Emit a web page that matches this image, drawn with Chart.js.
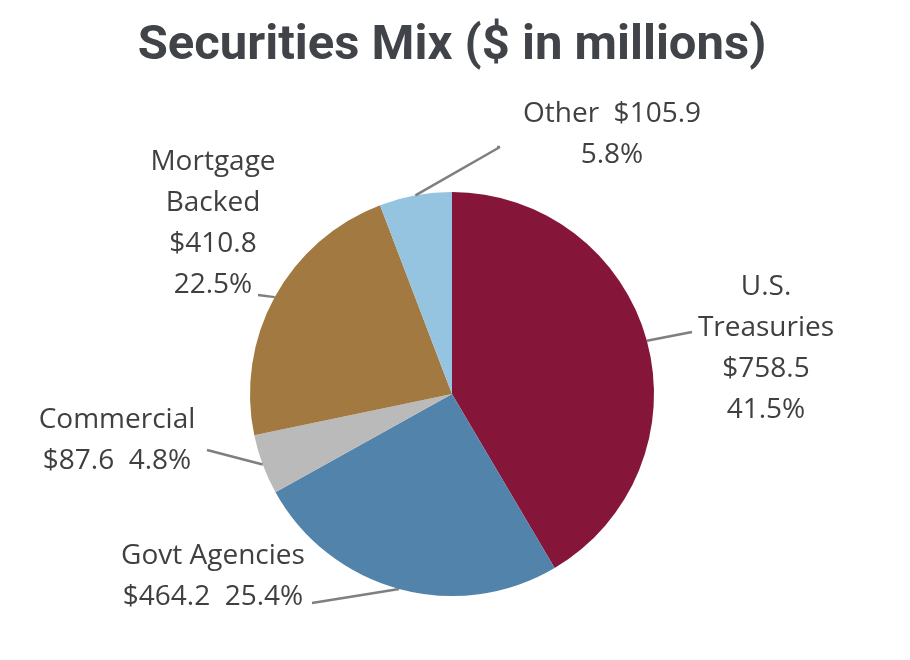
<!DOCTYPE html>
<html>
<head>
<meta charset="utf-8">
<script src="https://cdn.jsdelivr.net/npm/chart.js@4.4.1/dist/chart.umd.min.js"></script>
<style>
  html, body { margin: 0; padding: 0; background: #fff; }
  #wrap { width: 910px; height: 660px; }
</style>
</head>
<body>
<div id="wrap"><canvas id="show_chart" width="910" height="660"></canvas></div>
<script>
// ===== DATA =====
const categories = ['U.S. Treasuries', 'Govt Agencies', 'Commercial', 'Mortgage Backed', 'Other']
const amounts = [758.5, 464.2, 87.6, 410.8, 105.9]
const percents = ['41.5%', '25.4%', '4.8%', '22.5%', '5.8%']
const sliceColors = ['#86153A', '#5283AA', '#BABABB', '#A27A41', '#95C4E1']

// label text lines per slice
const labelLines = [
    ['U.S.', 'Treasuries', '$' + amounts[0].toFixed(1), percents[0]],
    ['Govt Agencies', '$' + amounts[1].toFixed(1) + '  ' + percents[1]],
    ['Commercial', '$' + amounts[2].toFixed(1) + '  ' + percents[2]],
    ['Mortgage', 'Backed', '$' + amounts[3].toFixed(1), percents[3]],
    ['Other  $' + amounts[4].toFixed(1), percents[4]]
]

// ===== LABEL LAYOUT (offsets from pie centre to the text block centre) =====
const labelPos = [
    { dx: 314, dy: -45 },
    { dx: -239, dy: 183 },
    { dx: -335, dy: 47 },
    { dx: -239, dy: -170 },
    { dx: 160, dy: -259 }
]
// where the leader line leaves the label (offset from pie centre)
const leaderStart = [
    [{ dx: 240, dy: -62 }],
    [{ dx: -140, dy: 209 }],
    [{ dx: -245, dy: 56 }],
    [{ dx: -194, dy: -99 }],
    [{ dx: 48, dy: -247 }, { dx: 45, dy: -247 }]
]

const LINE_H = 41

const labelPlugin = {
    id: 'sliceLabels',
    afterDatasetsDraw(chart) {
        const c = chart.ctx
        const arcs = chart.getDatasetMeta(0).data
        const cx = arcs[0].x
        const cy = arcs[0].y
        arcs.forEach((arc, i) => {
            const mid = (arc.startAngle + arc.endAngle) / 2
            const ex = cx + Math.cos(mid) * arc.outerRadius
            const ey = cy + Math.sin(mid) * arc.outerRadius

            // leader line
            c.save()
            c.strokeStyle = '#7F7F7F'
            c.lineWidth = 2.5
            c.beginPath()
            const pts = leaderStart[i]
            c.moveTo(cx + pts[0].dx, cy + pts[0].dy)
            for (let k = 1; k < pts.length; k++) c.lineTo(cx + pts[k].dx, cy + pts[k].dy)
            c.moveTo(cx + pts[0].dx, cy + pts[0].dy)
            c.lineTo(ex, ey)
            c.stroke()
            c.restore()

            // text
            c.save()
            c.fillStyle = '#404040'
            c.font = '28px "Open Sans"'
            c.textAlign = 'center'
            c.textBaseline = 'middle'
            const lines = labelLines[i]
            const lx = cx + labelPos[i].dx
            const ly = cy + labelPos[i].dy - (lines.length - 1) * LINE_H / 2
            lines.forEach((t, j) => c.fillText(t, lx, ly + j * LINE_H))
            c.restore()
        })
    }
}

const ctx = document.querySelector('#show_chart').getContext('2d')

new Chart(ctx, {
    type: 'pie',
    data: {
        labels: categories,
        datasets: [
            {
                data: amounts,
                backgroundColor: sliceColors,
                borderWidth: 0
            }
        ]
    },
    options: {
        responsive: false,
        animation: false,
        layout: {
            padding: { top: 0, bottom: 64, left: 0, right: 6 }
        },
        plugins: {
            legend: { display: false },
            tooltip: { enabled: false },
            title: {
                display: true,
                text: 'Securities Mix ($ in millions)',
                color: '#404448',
                font: { family: 'Roboto', size: 49, weight: 'bold', lineHeight: 1.2 },
                padding: { top: 17, bottom: 116.2 }
            }
        }
    },
    plugins: [labelPlugin]
})
</script>
</body>
</html>
